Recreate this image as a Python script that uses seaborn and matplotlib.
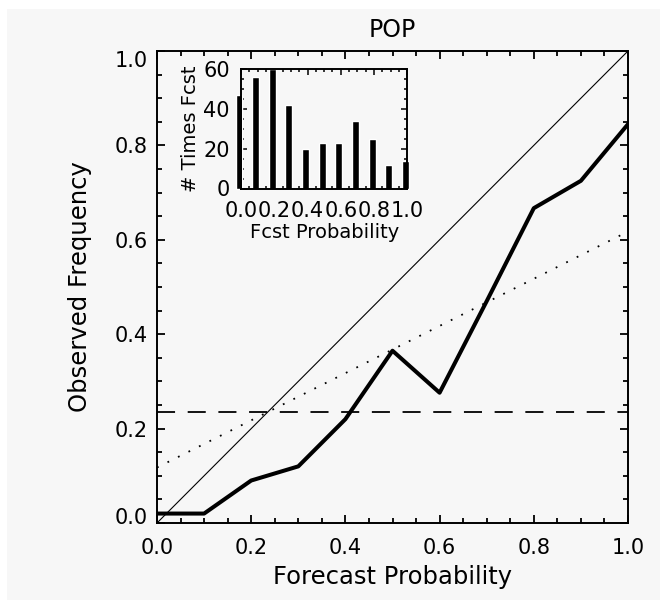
import numpy as np
import matplotlib
matplotlib.use("Agg")
import matplotlib.pyplot as plt
import matplotlib.transforms as mtransforms
from matplotlib.patches import Rectangle
from matplotlib.ticker import MultipleLocator
import seaborn as sns

# reliability diagram values
fcst_prob = [0.0, 0.1, 0.2, 0.3, 0.4, 0.5, 0.6, 0.7, 0.8, 0.9, 1.0]
obs_freq = [0.02, 0.02, 0.09, 0.12, 0.22, 0.365, 0.276, 0.47, 0.667, 0.725, 0.845]
n_fcst = [47, 56, 60, 42, 20, 23, 23, 34, 25, 12, 14]

climatology = 0.235
perfect_x = [0.0, 1.0]
perfect_y = [0.0, 1.0]
noskill_x = [0.0, 1.0]
noskill_y = [0.1175, 0.6175]

BG = "#f7f7f7"

sns.set_theme(style="ticks")
plt.rcParams["font.family"] = ["DejaVu Sans"]
plt.rcParams.update({
    "axes.facecolor": BG,
    "axes.edgecolor": "black",
    "axes.linewidth": 1.4,
    "xtick.color": "black",
    "ytick.color": "black",
    "text.color": "black",
    "axes.labelcolor": "black",
})

fig = plt.figure(figsize=(6.6, 6.0), dpi=100, facecolor="white")
fig.patches.append(Rectangle((7 / 660, 0), 1, 1 - 9 / 600, transform=fig.transFigure,
                             facecolor=BG, edgecolor="none", zorder=-10))

# ---------------------------------------------------------------------------
# main reliability plot
# ---------------------------------------------------------------------------
ax = fig.add_axes([157 / 660, 77 / 600, 471 / 660, 472 / 600])
ax.plot(perfect_x, perfect_y, color="black", lw=0.8)
ax.plot(noskill_x, noskill_y, color="black", lw=1.3, linestyle=(0, (1, 5.5)))
ax.axhline(climatology, color="black", lw=1.3, linestyle=(0, (10, 7)))
sns.lineplot(x=fcst_prob, y=obs_freq, ax=ax, color="black", lw=2.9)

ax.set_xlim(0, 1)
ax.set_ylim(0, 1)
ax.set_xticks([0, 0.2, 0.4, 0.6, 0.8, 1.0])
ax.set_yticks([0, 0.2, 0.4, 0.6, 0.8, 1.0])
ax.xaxis.set_minor_locator(MultipleLocator(0.05))
ax.yaxis.set_minor_locator(MultipleLocator(0.05))
ax.set_xticklabels([f"{v:.1f}" for v in ax.get_xticks()])
ax.set_yticklabels([f"{v:.1f}" for v in ax.get_yticks()])
ax.tick_params(which="both", direction="in", top=True, right=True, width=1.3)
ax.tick_params(which="major", length=6, labelsize=15)
ax.tick_params(axis="x", which="major", pad=11)
ax.tick_params(axis="y", which="major", pad=6.5)
ax.tick_params(which="minor", length=3.5)

# IDL pulls the end labels of the y axis inwards
yt = ax.yaxis.get_major_ticks()
yt[0].label1.set_transform(yt[0].label1.get_transform()
                           + mtransforms.ScaledTranslation(0, 7.5 / 100, fig.dpi_scale_trans))
yt[-1].label1.set_transform(yt[-1].label1.get_transform()
                            + mtransforms.ScaledTranslation(0, -8 / 100, fig.dpi_scale_trans))

ax.set_xlabel("Forecast Probability", fontsize=17.5, va="center")
ax.set_ylabel("Observed Frequency", fontsize=17.5, va="center")
ax.xaxis.set_label_coords(0.5, -54 / 472)
ax.yaxis.set_label_coords(-77 / 471, 0.5)
ax.set_title("POP", fontsize=17, y=1 + 21 / 472, va="center", pad=0)

# ---------------------------------------------------------------------------
# inset histogram of forecast counts
# ---------------------------------------------------------------------------
axin = fig.add_axes([241 / 660, 411.5 / 600, 166.3 / 660, 119.2 / 600])
axin.set_facecolor(BG)
bars = axin.bar(fcst_prob, n_fcst, width=0.042, color="black", align="center")
shift = mtransforms.ScaledTranslation(-2 / 100, 0, fig.dpi_scale_trans)
for b in bars:
    b.set_clip_on(False)
    b.set_transform(axin.transData + shift)
axin.set_xlim(0, 1)
axin.set_ylim(0, 60)
axin.set_xticks([0, 0.2, 0.4, 0.6, 0.8, 1.0])
axin.set_xticklabels([f"{v:.1f}" for v in [0, 0.2, 0.4, 0.6, 0.8, 1.0]])
axin.set_yticks([0, 20, 40, 60])
axin.xaxis.set_minor_locator(MultipleLocator(0.05))
axin.yaxis.set_minor_locator(MultipleLocator(5))
axin.tick_params(which="both", direction="in", top=True, right=True, width=1.1)
axin.tick_params(which="major", length=4, labelsize=15)
axin.tick_params(which="minor", length=2.5)
axin.tick_params(axis="x", which="major", pad=9)
axin.tick_params(axis="y", which="major", pad=8)
axin.set_xlabel("Fcst Probability", fontsize=14, va="center")
axin.set_ylabel("# Times Fcst", fontsize=14, va="center")
axin.xaxis.set_label_coords(0.5, -43.5 / 119.2)
axin.yaxis.set_label_coords(-51 / 166.3, 0.5)

fig.savefig("out.png", dpi=100, facecolor=fig.get_facecolor())
